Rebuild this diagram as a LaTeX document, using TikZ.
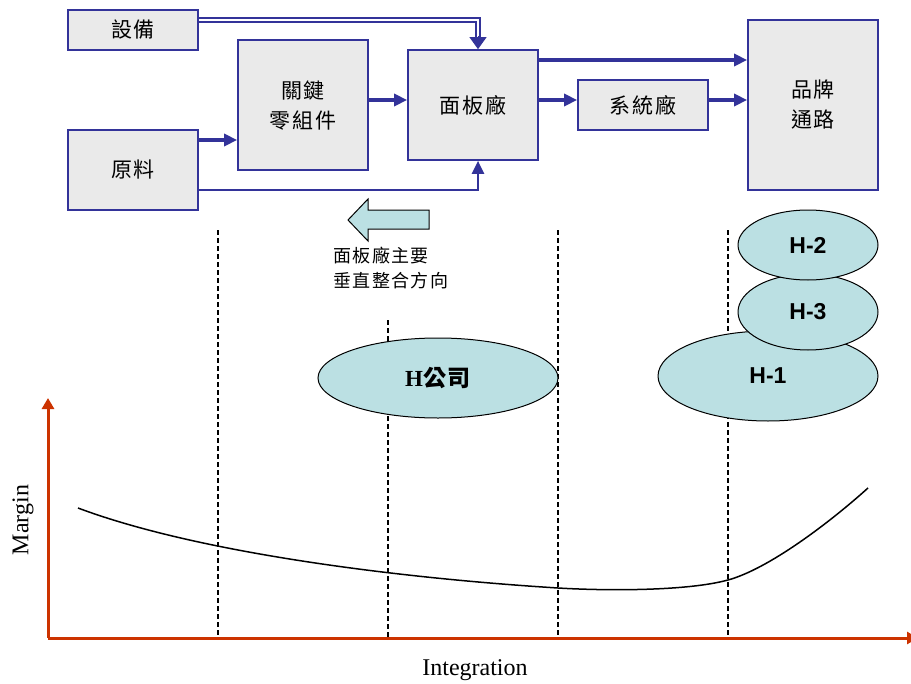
\documentclass[tikz,border=0pt]{standalone}
\usepackage{fontspec}
\setmainfont{Liberation Serif}
\newfontfamily\cjk[LetterSpace=8]{Noto Sans CJK TC}
\newfontfamily\arialfont{Liberation Sans}
\usepackage{tikz}
\usetikzlibrary{arrows.meta,shapes.geometric}
\definecolor{flowblue}{RGB}{51,51,153}
\definecolor{boxgray}{RGB}{234,234,234}
\definecolor{firmcyan}{RGB}{187,224,227}
\definecolor{axisred}{RGB}{204,51,0}
\tikzset{
box/.style = {rectangle, draw=flowblue, line width=1.7bp, fill=boxgray, minimum width = #1, align=center, inner sep=0pt, font=\cjk\fontsize{21bp}{30bp}\selectfont},
box/.default = 130bp, % width of every box in the chain
flow/.style = {-{Triangle[length=13bp,width=12bp]}, draw=flowblue, line width=3.3bp},
dblline/.style = {draw=flowblue, line width=1.8bp, double=white, double distance=2.2bp},
firm/.style = {ellipse, draw=black, line width=1bp, fill=firmcyan, inner sep=0pt, font=\arialfont\bfseries\fontsize{23bp}{23bp}\selectfont},
vline/.style = {draw=black, line width=2.6bp, dash pattern=on 5bp off 3bp},
axis/.style = {-{Triangle[length=11bp,width=12bp]}, draw=axisred, line width=3bp},
}

\begin{document}
\begin{tikzpicture}[x=1bp,y=-1bp]
    \useasboundingbox (0,0) rectangle (911,684);
    % supply chain
    \node[box, minimum height=40bp] (eqp) at (133,30) {設備};
    \node[box, minimum height=80bp] (raw) at (133,170) {原料};
    \node[box, minimum height=130bp] (keyparts) at (303,105) {關鍵\\零組件};
    \node[box, minimum height=110bp] (panel) at (473,105) {面板廠};
    \node[box, minimum height=50bp] (sys) at (643,105) {系統廠};
    \node[box, minimum height=170bp] (brand) at (813,105) {品牌\\通路};

    \draw[dblline] ([yshift=10bp]eqp.east) -| ([xshift=5bp,yshift=12bp]panel.north);
    \draw[-{Triangle[length=12bp,width=17bp]}, draw=flowblue, line width=1bp] ([xshift=5bp,yshift=13bp]panel.north) -- ([xshift=5bp]panel.north);
    \draw[flow] ([yshift=30bp]raw.east) -- ([yshift=30bp]raw.east -| keyparts.west);
    \draw[flow, line width=2.2bp] ([yshift=-20bp]raw.east) -| ([xshift=5bp]panel.south);
    \draw[flow] ([yshift=5bp]keyparts.east) -- ([yshift=5bp]panel.west);
    \draw[flow] ([yshift=45bp]panel.east) -- ([yshift=45bp]panel.east -| brand.west);
    \draw[flow] ([yshift=5bp]panel.east) -- ([yshift=5bp]sys.west);
    \draw[flow] ([yshift=5bp]sys.east) -- ([yshift=5bp]brand.west);

    % direction of integration
    \draw[fill=firmcyan, line width=1bp] (429,210) -- (368,210) -- (368,199) -- (348,220) -- (368,241) -- (368,229) -- (429,229) -- cycle;
    \node[anchor=north west, align=left, inner sep=0pt, font=\cjk\fontsize{18bp}{25bp}\selectfont] (dirnote) at (333,247) {面板廠主要\\垂直整合方向};

    % stages
    \draw[vline] (218,230) -- (218,638);
    \draw[vline] (388,320) -- (388,638);
    \draw[vline] (558,230) -- (558,638);
    \draw[vline] (728,230) -- (728,638);

    \node[firm, minimum width=240bp, minimum height=80bp] (hco) at (438,378) {\fontspec{Liberation Serif}H{\cjk 公司}};
    \node[firm, minimum width=220bp, minimum height=90bp] (h1) at (768,376) {H-1};
    \node[firm, minimum width=140bp, minimum height=76bp] (h3) at (808,312) {H-3};
    \node[firm, minimum width=140bp, minimum height=70bp] (h2) at (808,245) {H-2};

    % margin curve
    \coordinate (origin) at (48,638);
    \coordinate (ytop) at (48,398);
    \coordinate (xend) at (918,638);
    \draw[axis] (origin) -- (ytop);
    \draw[axis] (origin) -- (xend);
    \draw[line width=1.5bp] (78,508) .. controls (198,553) and (398,578) .. (558,588)
        .. controls (608,591) and (688,591) .. (728,580)
        .. controls (768,569) and (828,524) .. (868,488);
    \node[rotate=90, font=\fontsize{24bp}{24bp}\selectfont] (ylabel) at (23,520) {Margin};
    \node[font=\fontsize{24bp}{24bp}\selectfont] (xlabel) at (475,670) {Integration};
\end{tikzpicture}
\end{document}
